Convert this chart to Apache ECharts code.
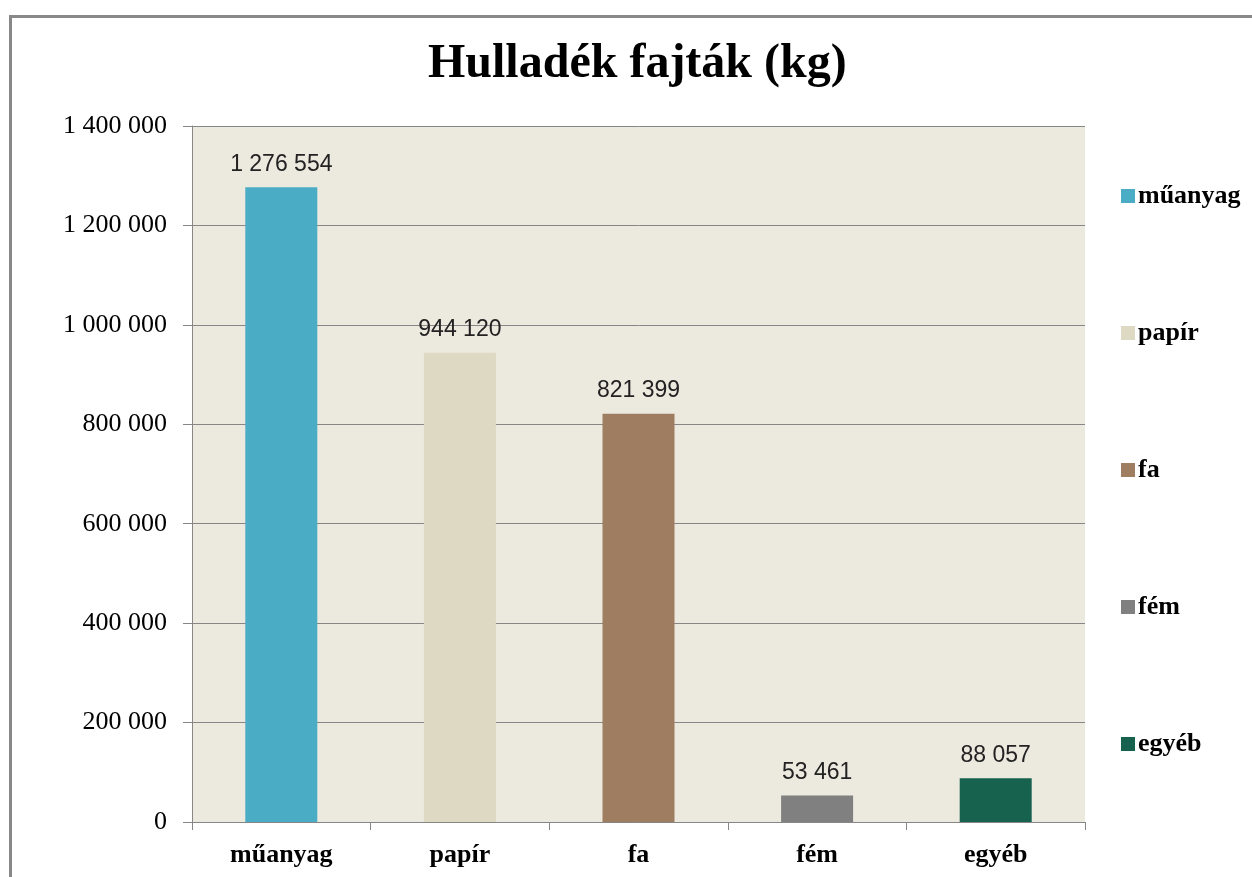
<!DOCTYPE html>
<html>
<head>
<meta charset="utf-8">
<title>Hulladék fajták (kg)</title>
<script src="https://cdn.jsdelivr.net/npm/echarts@6/dist/echarts.min.js"></script>
<style>
  html, body { margin: 0; padding: 0; background: #ffffff; }
  #main { width: 1252px; height: 877px; }
</style>
</head>
<body>
<div id="main"></div>
<script>
// adatok
var categories = ['műanyag', 'papír', 'fa', 'fém', 'egyéb'];
var values = [1276554, 944120, 821399, 53461, 88057];
var colors = ['#4BACC6', '#DDD9C3', '#9E7D61', '#808080', '#17624F'];
var yTicks = [0, 200000, 400000, 600000, 800000, 1000000, 1200000, 1400000];

function fmt(v) {
  return String(v).replace(/\B(?=(\d{3})+(?!\d))/g, ' ');
}

var chart = echarts.init(document.getElementById('main'));

// minden kategória külön sorozat, hogy legyen jelmagyarázat
var series = categories.map(function (name, i) {
  var data = categories.map(function (c, j) { return j === i ? values[i] : null; });
  return {
    name: name,
    type: 'bar',
    stack: 'all',
    barWidth: 72,
    data: data,
    itemStyle: { color: colors[i] },
    label: {
      show: true,
      position: 'top',
      distance: 11,
      color: '#222',
      fontFamily: 'Liberation Sans',
      fontSize: 23,
      formatter: function (p) { return fmt(p.value); }
    }
  };
});

chart.setOption({
  backgroundColor: '#ffffff',
  animation: false,
  title: {
    text: 'Hulladék fajták (kg)',
    left: 428,
    top: 41,
    padding: 0,
    textStyle: {
      fontFamily: 'Liberation Serif',
      fontWeight: 'bold',
      fontSize: 48,
      color: '#000'
    }
  },
  graphic: [{
    type: 'rect',
    shape: { x: 10.5, y: 16.5, width: 1400, height: 1000 },
    style: { fill: 'none', stroke: '#888888', lineWidth: 3 },
    silent: true
  }],
  legend: {
    orient: 'vertical',
    left: 1121,
    top: 183,
    padding: 0,
    itemWidth: 14,
    itemHeight: 14,
    itemGap: 111,
    icon: 'rect',
    data: categories,
    textStyle: {
      fontFamily: 'Liberation Serif',
      fontWeight: 'bold',
      fontSize: 26,
      lineHeight: 26,
      padding: [0, 0, 0, -2],
      color: '#000'
    }
  },
  grid: {
    left: 192,
    right: 167,
    top: 126,
    bottom: 55,
    show: true,
    backgroundColor: '#ECE9DF',
    borderWidth: 0
  },
  xAxis: {
    type: 'category',
    data: categories,
    axisLine: { lineStyle: { color: '#868686', width: 1 } },
    axisTick: { show: true, length: 8, lineStyle: { color: '#868686' } },
    axisLabel: {
      margin: 20,
      fontFamily: 'Liberation Serif',
      fontWeight: 'bold',
      fontSize: 26,
      color: '#000'
    }
  },
  yAxis: {
    type: 'value',
    min: yTicks[0],
    max: yTicks[yTicks.length - 1],
    interval: 200000,
    axisLine: { show: true, lineStyle: { color: '#868686', width: 1 } },
    axisTick: { show: true, length: 9, lineStyle: { color: '#868686' } },
    splitLine: { show: true, lineStyle: { color: '#868686', width: 1 } },
    axisLabel: {
      margin: 25,
      fontFamily: 'Liberation Serif',
      fontSize: 26,
      color: '#000',
      formatter: function (v) { return fmt(v); }
    }
  },
  series: series
});
</script>
</body>
</html>
